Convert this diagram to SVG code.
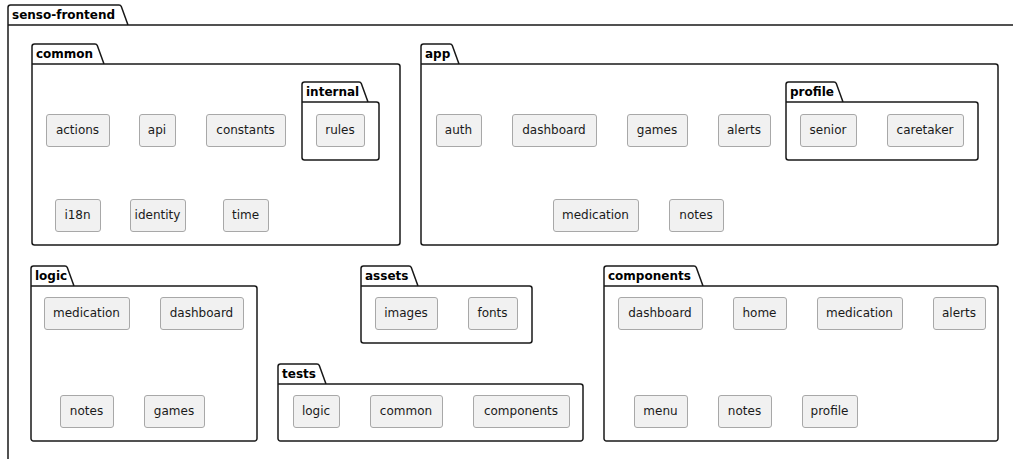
<svg xmlns="http://www.w3.org/2000/svg" width="1013" height="459" viewBox="0 0 1013 459">
  <style>
    .pkg { fill: none; stroke: #181818; stroke-width: 1.5; }
    .pkgt { font-family: "DejaVu Sans", sans-serif; font-weight: bold; font-size: 12px; fill: #000000; }
    .node rect { fill: #F1F1F1; stroke: #A8A8A8; stroke-width: 1; }
    .node text { font-family: "DejaVu Sans", sans-serif; font-size: 12px; fill: #1a1a1a; text-anchor: middle; }
  </style>
  <rect width="1013" height="459" fill="#FFFFFF"/>

  <!-- package outlines: tab on the top-left, body below -->
  <g id="pkg-senso-frontend">
    <path class="pkg" d="M8,470 L8,7.5 A2.5,2.5 0 0 1 10.5,5 L119,5 A2.5,2.5 0 0 1 121.3,6.5 L128,25 L1020,25 M8,25 L128,25"/>
    <text class="pkgt" x="12" y="19">senso-frontend</text>
  </g>

  <g id="pkg-common">
    <path class="pkg" d="M32,242.5 L32,46.5 A2.5,2.5 0 0 1 34.5,44 L95,44 A2.5,2.5 0 0 1 97.3,45.5 L104,64 L397.5,64 A2.5,2.5 0 0 1 400,66.5 L400,242.5 A2.5,2.5 0 0 1 397.5,245 L34.5,245 A2.5,2.5 0 0 1 32,242.5 Z M32,64 L104,64"/>
    <text class="pkgt" x="36" y="58">common</text>
  </g>
  <g id="pkg-internal">
    <path class="pkg" d="M302,157.5 L302,84.5 A2.5,2.5 0 0 1 304.5,82 L359,82 A2.5,2.5 0 0 1 361.3,83.5 L368,102 L376.5,102 A2.5,2.5 0 0 1 379,104.5 L379,157.5 A2.5,2.5 0 0 1 376.5,160 L304.5,160 A2.5,2.5 0 0 1 302,157.5 Z M302,102 L368,102"/>
    <text class="pkgt" x="306" y="96">internal</text>
  </g>

  <g id="pkg-app">
    <path class="pkg" d="M421,242.5 L421,46.5 A2.5,2.5 0 0 1 423.5,44 L450,44 A2.5,2.5 0 0 1 452.3,45.5 L459,64 L995.5,64 A2.5,2.5 0 0 1 998,66.5 L998,242.5 A2.5,2.5 0 0 1 995.5,245 L423.5,245 A2.5,2.5 0 0 1 421,242.5 Z M421,64 L459,64"/>
    <text class="pkgt" x="425" y="58">app</text>
  </g>
  <g id="pkg-profile">
    <path class="pkg" d="M786,157.5 L786,84.5 A2.5,2.5 0 0 1 788.5,82 L834,82 A2.5,2.5 0 0 1 836.3,83.5 L843,102 L975.5,102 A2.5,2.5 0 0 1 978,104.5 L978,157.5 A2.5,2.5 0 0 1 975.5,160 L788.5,160 A2.5,2.5 0 0 1 786,157.5 Z M786,102 L843,102"/>
    <text class="pkgt" x="790" y="96">profile</text>
  </g>

  <g id="pkg-logic">
    <path class="pkg" d="M31,438.5 L31,268.5 A2.5,2.5 0 0 1 33.5,266 L65,266 A2.5,2.5 0 0 1 67.3,267.5 L74,286 L254.5,286 A2.5,2.5 0 0 1 257,288.5 L257,438.5 A2.5,2.5 0 0 1 254.5,441 L33.5,441 A2.5,2.5 0 0 1 31,438.5 Z M31,286 L74,286"/>
    <text class="pkgt" x="35" y="280">logic</text>
  </g>

  <g id="pkg-assets">
    <path class="pkg" d="M361,340.5 L361,268.5 A2.5,2.5 0 0 1 363.5,266 L409,266 A2.5,2.5 0 0 1 411.3,267.5 L418,286 L529.5,286 A2.5,2.5 0 0 1 532,288.5 L532,340.5 A2.5,2.5 0 0 1 529.5,343 L363.5,343 A2.5,2.5 0 0 1 361,340.5 Z M361,286 L418,286"/>
    <text class="pkgt" x="365" y="280">assets</text>
  </g>

  <g id="pkg-tests">
    <path class="pkg" d="M278,438.5 L278,366.5 A2.5,2.5 0 0 1 280.5,364 L317,364 A2.5,2.5 0 0 1 319.3,365.5 L326,384 L580.5,384 A2.5,2.5 0 0 1 583,386.5 L583,438.5 A2.5,2.5 0 0 1 580.5,441 L280.5,441 A2.5,2.5 0 0 1 278,438.5 Z M278,384 L326,384"/>
    <text class="pkgt" x="282" y="378">tests</text>
  </g>

  <g id="pkg-components">
    <path class="pkg" d="M604,438.5 L604,268.5 A2.5,2.5 0 0 1 606.5,266 L694,266 A2.5,2.5 0 0 1 696.3,267.5 L703,286 L995.5,286 A2.5,2.5 0 0 1 998,288.5 L998,438.5 A2.5,2.5 0 0 1 995.5,441 L606.5,441 A2.5,2.5 0 0 1 604,438.5 Z M604,286 L703,286"/>
    <text class="pkgt" x="608" y="280">components</text>
  </g>

  <!-- common -->
  <g id="common-actions" class="node"><rect x="46.5" y="114.5" width="63" height="32" rx="2.5"/><text x="77.5" y="134">actions</text></g>
  <g id="common-api" class="node"><rect x="139.5" y="114.5" width="36" height="32" rx="2.5"/><text x="157" y="134">api</text></g>
  <g id="common-constants" class="node"><rect x="206.5" y="114.5" width="79" height="32" rx="2.5"/><text x="245.5" y="134">constants</text></g>
  <g id="common-internal-rules" class="node"><rect x="316.5" y="114.5" width="48" height="32" rx="2.5"/><text x="340" y="134">rules</text></g>
  <g id="common-i18n" class="node"><rect x="55.5" y="199.5" width="45" height="32" rx="2.5"/><text x="77.5" y="219">i18n</text></g>
  <g id="common-identity" class="node"><rect x="130.5" y="199.5" width="55" height="32" rx="2.5"/><text x="157.5" y="219">identity</text></g>
  <g id="common-time" class="node"><rect x="223.5" y="199.5" width="45" height="32" rx="2.5"/><text x="245.5" y="219">time</text></g>

  <!-- app -->
  <g id="app-auth" class="node"><rect x="436.5" y="114.5" width="45" height="32" rx="2.5"/><text x="458.5" y="134">auth</text></g>
  <g id="app-dashboard" class="node"><rect x="512.5" y="114.5" width="84" height="32" rx="2.5"/><text x="554" y="134">dashboard</text></g>
  <g id="app-games" class="node"><rect x="627.5" y="114.5" width="60" height="32" rx="2.5"/><text x="657" y="134">games</text></g>
  <g id="app-alerts" class="node"><rect x="718.5" y="114.5" width="52" height="32" rx="2.5"/><text x="744" y="134">alerts</text></g>
  <g id="app-profile-senior" class="node"><rect x="800.5" y="114.5" width="56" height="32" rx="2.5"/><text x="828" y="134">senior</text></g>
  <g id="app-profile-caretaker" class="node"><rect x="887.5" y="114.5" width="76" height="32" rx="2.5"/><text x="925" y="134">caretaker</text></g>
  <g id="app-medication" class="node"><rect x="553.5" y="199.5" width="85" height="32" rx="2.5"/><text x="595.5" y="219">medication</text></g>
  <g id="app-notes" class="node"><rect x="669.5" y="199.5" width="54" height="32" rx="2.5"/><text x="696" y="219">notes</text></g>

  <!-- logic -->
  <g id="logic-medication" class="node"><rect x="44.5" y="297.5" width="85" height="32" rx="2.5"/><text x="86.5" y="317">medication</text></g>
  <g id="logic-dashboard" class="node"><rect x="160.5" y="297.5" width="83" height="32" rx="2.5"/><text x="201.5" y="317">dashboard</text></g>
  <g id="logic-notes" class="node"><rect x="60.5" y="395.5" width="53" height="32" rx="2.5"/><text x="86.5" y="415">notes</text></g>
  <g id="logic-games" class="node"><rect x="144.5" y="395.5" width="60" height="32" rx="2.5"/><text x="174" y="415">games</text></g>

  <!-- assets -->
  <g id="assets-images" class="node"><rect x="375.5" y="297.5" width="62" height="32" rx="2.5"/><text x="406" y="317">images</text></g>
  <g id="assets-fonts" class="node"><rect x="468.5" y="297.5" width="49" height="32" rx="2.5"/><text x="492.5" y="317">fonts</text></g>

  <!-- tests -->
  <g id="tests-logic" class="node"><rect x="293.5" y="395.5" width="46" height="32" rx="2.5"/><text x="316" y="415">logic</text></g>
  <g id="tests-common" class="node"><rect x="370.5" y="395.5" width="72" height="32" rx="2.5"/><text x="406" y="415">common</text></g>
  <g id="tests-components" class="node"><rect x="473.5" y="395.5" width="96" height="32" rx="2.5"/><text x="521" y="415">components</text></g>

  <!-- components -->
  <g id="components-dashboard" class="node"><rect x="618.5" y="297.5" width="84" height="32" rx="2.5"/><text x="660" y="317">dashboard</text></g>
  <g id="components-home" class="node"><rect x="733.5" y="297.5" width="53" height="32" rx="2.5"/><text x="759.5" y="317">home</text></g>
  <g id="components-medication" class="node"><rect x="817.5" y="297.5" width="85" height="32" rx="2.5"/><text x="859.5" y="317">medication</text></g>
  <g id="components-alerts" class="node"><rect x="933.5" y="297.5" width="52" height="32" rx="2.5"/><text x="959" y="317">alerts</text></g>
  <g id="components-menu" class="node"><rect x="634.5" y="395.5" width="53" height="32" rx="2.5"/><text x="660.5" y="415">menu</text></g>
  <g id="components-notes" class="node"><rect x="718.5" y="395.5" width="53" height="32" rx="2.5"/><text x="744.5" y="415">notes</text></g>
  <g id="components-profile" class="node"><rect x="802.5" y="395.5" width="55" height="32" rx="2.5"/><text x="829.5" y="415">profile</text></g>

  <!-- no dependency arrows between packages -->
  <g id="connectors"/>
</svg>
